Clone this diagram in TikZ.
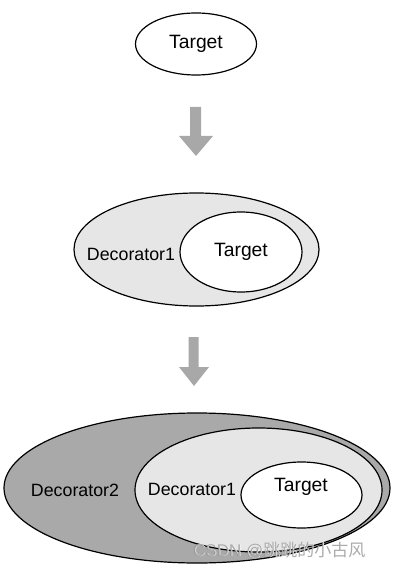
\documentclass[tikz,border=0pt]{standalone}
\usepackage{fontspec}
\setmainfont{Liberation Sans}
\newfontfamily\cjk{Noto Sans CJK SC}
\usetikzlibrary{shapes.geometric}
\definecolor{lightfill}{HTML}{E6E6E6}
\definecolor{darkfill}{HTML}{A9A9A9}
\definecolor{arrowgray}{HTML}{A8A8A8}
\tikzset{
  oval/.style={ellipse, draw=black, line width=1.2pt, inner sep=0pt},
  lbl/.style={font=\fontsize{17.8}{20}\selectfont, inner sep=0pt},
  tlbl/.style={font=\fontsize{19.3}{22}\selectfont, inner sep=0pt},
  bigarrow/.style={fill=arrowgray, draw=none},
}
\begin{document}
\begin{tikzpicture}[x=1pt,y=-1pt]
\useasboundingbox (0,0) rectangle (401,569);
% top
\node[oval, fill=white, minimum width=121pt, minimum height=62pt] (t0) at (196,44) {};
\node[tlbl] (t0l) at (196,44) {Target};
% arrow 1
\fill[bigarrow] (190,107) -- (201,107) -- (201,136) -- (213,136) -- (196,156) -- (179,136) -- (190,136) -- cycle;
% middle
\node[oval, fill=lightfill, minimum width=245pt, minimum height=113pt] (d1m) at (196.5,249.5) {};
\node[oval, fill=white, minimum width=122pt, minimum height=80pt] (t1) at (241,252) {};
\node[lbl] (d1ml) at (131,254) {Decorator1};
\node[tlbl] (t1l) at (241,252) {Target};
% arrow 2
\fill[bigarrow] (188.5,337) -- (198.5,337) -- (198.5,367) -- (209,367) -- (194,386) -- (179,367) -- (188.5,367) -- cycle;
% bottom
\node[oval, fill=darkfill, minimum width=386pt, minimum height=150pt] (d2) at (197,488) {};
\node[oval, fill=lightfill, minimum width=247pt, minimum height=124pt] (d1b) at (258.5,490) {};
\node[oval, fill=white, minimum width=121pt, minimum height=66pt] (t2) at (301.5,495) {};
\node[lbl] (d2l) at (75,490) {Decorator2};
\node[lbl] (d1bl) at (192,489) {Decorator1};
\node[tlbl] (t2l) at (301,487) {Target};
% watermark
\node[inner sep=0pt, anchor=west, text=white, font=\fontsize{17}{20}\selectfont] (wm) at (193.5,550.8) {CSDN @\cjk 跳跳的小古风};
\node[inner sep=0pt, anchor=west, text=black!55, opacity=0.6, font=\fontsize{17}{20}\selectfont] (wm2) at (193,550) {CSDN @\cjk 跳跳的小古风};
\end{tikzpicture}
\end{document}
